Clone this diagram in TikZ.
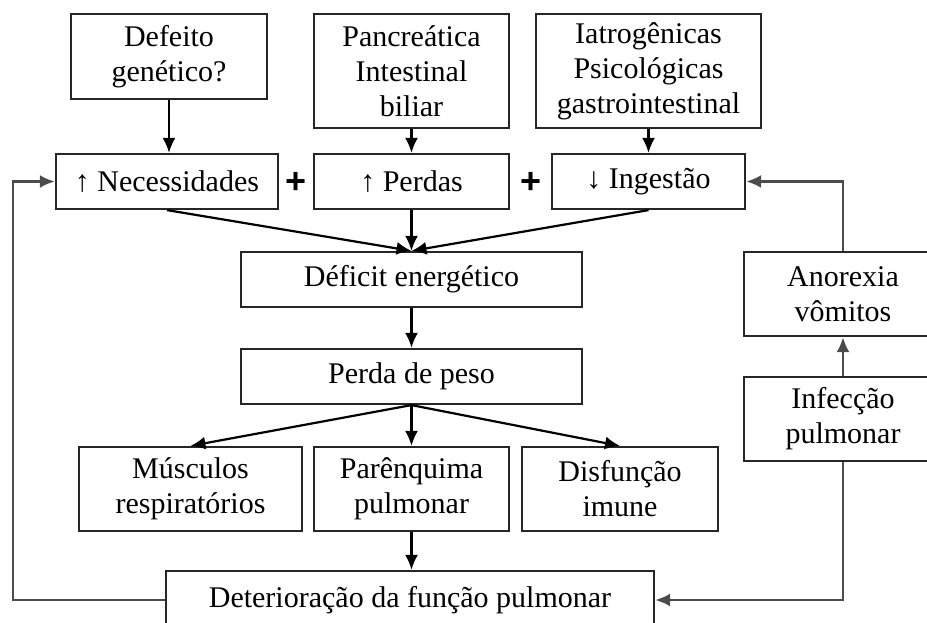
\documentclass[tikz,border=0pt]{standalone}
\usepackage{fontspec}
\setmainfont{Liberation Serif}
\newfontfamily\sinal{Liberation Sans}
\usetikzlibrary{arrows.meta}
\begin{document}
\begin{tikzpicture}[x=1pt, y=-1pt,
    block/.style={rectangle, draw=black!85, line width=2.2pt, align=center, inner sep=0pt, fill=white, font=\fontsize{30}{35}\selectfont},
    seta/.style={-{Latex[length=15pt,width=13pt]}, line width=2.2pt},
    volta/.style={draw=black!70, line width=2.8pt},
    mais/.style={font=\sinal\bfseries\fontsize{36}{36}\selectfont, inner sep=0pt}]
    \useasboundingbox (0,0) rectangle (927,623);
    \clip (0,0) rectangle (927,623);

    % causas
    \node[block, minimum width=196pt, minimum height=85pt] (gen) at (169,56.5) {Defeito\\genético?};
    \node[block, minimum width=195pt, minimum height=114pt] (pan) at (411.5,71) {Pancreática\\Intestinal\\biliar};
    \node[block, minimum width=225pt, minimum height=114pt] (iat) at (648.5,71) {Iatrogênicas\\Psicológicas\\gastrointestinal};

    \node[block, minimum width=222pt, minimum height=55pt] (nec) at (167,181.5) {↑ Necessidades};
    \node[block, minimum width=195pt, minimum height=55pt] (per) at (411.5,181.5) {↑ Perdas};
    \node[block, minimum width=193pt, minimum height=55pt] (ing) at (648.5,181.5) {↓ Ingestão};
    \node[mais] (mais1) at (296,183) {+};
    \node[mais] (mais2) at (531,183) {+};

    \node[block, minimum width=341pt, minimum height=55pt] (def) at (411.5,279.5) {Déficit energético};
    \node[block, minimum width=341pt, minimum height=55pt] (peso) at (411.5,376.5) {Perda de peso};

    \node[block, minimum width=223pt, minimum height=84pt] (mus) at (190.5,489) {Músculos\\respiratórios};
    \node[block, minimum width=195pt, minimum height=84pt] (par) at (411.5,489) {Parênquima\\pulmonar};
    \node[block, minimum width=196pt, minimum height=84pt] (dis) at (620,489) {Disfunção\\imune};

    \node[block, minimum width=488pt, minimum height=58pt] (det) at (410,600) {Deterioração da função pulmonar};

    \node[block, minimum width=198pt, minimum height=84pt] (ano) at (843,294) {Anorexia\\vômitos};
    \node[block, minimum width=198pt, minimum height=84pt] (inf) at (843,419) {Infecção\\pulmonar};

    \coordinate (esq) at (13,390);

    \draw[seta] (gen) -- (gen |- nec.north);
    \draw[seta] (pan) -- (per);
    \draw[seta] (iat) -- (ing);
    \draw[seta] (nec.south) -- (def.north);
    \draw[seta] (per.south) -- (def.north);
    \draw[seta] (ing.south) -- (def.north);
    \draw[seta] (def) -- (peso);
    \draw[seta] (peso.south) -- (mus.north);
    \draw[seta] (peso.south) -- (par.north);
    \draw[seta] (peso.south) -- (dis.north);
    \draw[seta] (par) -- (par |- det.north);

    % ciclos
    \draw[seta, volta] (det.west) -| (esq) |- (nec.west);
    \draw[seta, volta, {Latex[length=15pt,width=13pt]}-] (det.east) -| (inf.south);
    \draw[seta, volta] (inf) -- (ano);
    \draw[seta, volta] (ano.north) |- (ing.east);
\end{tikzpicture}
\end{document}
